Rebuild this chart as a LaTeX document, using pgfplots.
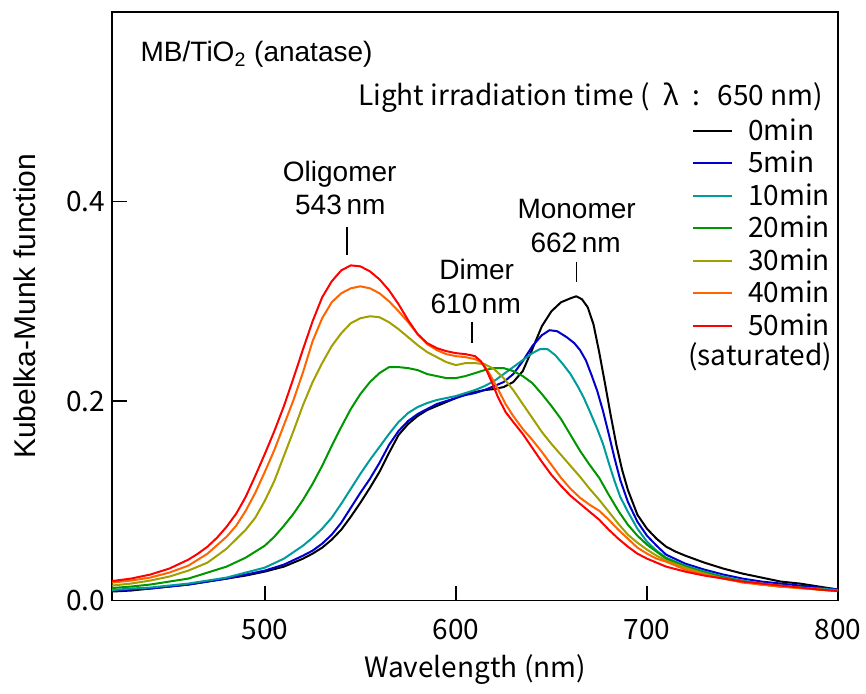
\documentclass[border=0pt]{standalone}
\usepackage{fontspec}
\setmainfont{Liberation Sans}
\newfontfamily\gothic{Noto Sans CJK JP}
\usepackage{pgfplots}
\pgfplotsset{compat=1.18}

\definecolor{cfive}{RGB}{0,0,205}
\definecolor{cten}{RGB}{0,155,155}
\definecolor{ctwenty}{RGB}{0,150,0}
\definecolor{cthirty}{RGB}{160,160,0}
\definecolor{cforty}{RGB}{255,100,0}
\definecolor{cfifty}{RGB}{255,0,0}

\newcommand\gfont{\gothic\fontsize{14}{16}\selectfont}
\newcommand\afont{\fontsize{14}{16}\selectfont}

\begin{document}
\begin{tikzpicture}
\begin{axis}[
  scale only axis, width=363pt, height=294.25pt,
  xmin=420, xmax=800, ymin=0, ymax=0.59,
  xtick={500,600,700,800}, ytick={0,0.2,0.4},
  tick align=inside, tick pos=left,
  major tick length=7.5pt,
  axis line style={line width=0.9pt},
  every tick/.style={black, line width=0.9pt},
  /pgf/number format/assume math mode=true,
  yticklabel style={/pgf/number format/.cd, fixed, fixed zerofill, precision=1},
  ticklabel style={font=\gfont},
  xticklabel style={yshift=-6pt},
  xlabel={Wavelength (nm)},
  xlabel style={font=\gfont, at={(axis description cs:0.5,0)}, anchor=base, yshift=-38.5pt},
  ylabel={Kubelka-Munk function},
  ylabel style={font=\fontsize{15}{17}\selectfont, at={(axis description cs:0,0.5)}, anchor=center, yshift=43.5pt},
  legend cell align=left,
  legend image code/.code={\draw[#1, line width=1pt] (0pt,0pt) -- (19.5pt,0pt);},
  legend style={draw=none, fill=none, inner sep=0pt, column sep=7.5pt,
    at={(axis cs:723.4,0.4877)}, anchor=north west, font=\gfont,
    nodes={inner sep=0pt, text height=13pt, text depth=3.25pt}},
  every axis plot/.append style={line width=1pt, line join=round},
]
% 0 min
\addplot[black] coordinates {
(420,0.009) (430,0.010) (440,0.012) (450,0.014) (460,0.016) (470,0.019) (480,0.022) (490,0.025)
(500,0.029) (510,0.034) (520,0.042) (525,0.047) (530,0.053) (535,0.061) (540,0.071) (545,0.084) (550,0.098)
(555,0.113) (560,0.129) (565,0.148) (570,0.166) (575,0.177) (580,0.185) (585,0.191) (590,0.195)
(595,0.199) (600,0.203) (605,0.207) (610,0.209) (615,0.211) (620,0.212) (625,0.214) (630,0.219)
(635,0.230) (640,0.252) (645,0.275) (650,0.290) (655,0.299) (660,0.303) (663,0.305) (666,0.302)
(669,0.294) (672,0.277) (675,0.249) (678,0.218) (681,0.186) (684,0.156) (687,0.131) (690,0.111)
(695,0.086) (700,0.072) (705,0.062) (710,0.054) (715,0.049) (720,0.045) (730,0.038) (740,0.032)
(750,0.027) (760,0.023) (770,0.019) (780,0.017) (790,0.014) (800,0.011)
};
\addlegendentry{0min}
% 5 min
\addplot[cfive] coordinates {
(420,0.0095) (430,0.011) (440,0.012) (450,0.014) (460,0.016) (470,0.019) (480,0.022) (490,0.026)
(500,0.030) (510,0.036) (520,0.045) (525,0.050) (530,0.057) (535,0.066) (540,0.078) (545,0.093) (550,0.108)
(555,0.122) (560,0.138) (565,0.156) (570,0.170) (575,0.180) (580,0.187) (585,0.192) (590,0.197)
(595,0.200) (600,0.203) (605,0.206) (610,0.208) (615,0.211) (620,0.215) (625,0.219) (630,0.227)
(635,0.240) (640,0.255) (645,0.266) (649,0.271) (653,0.270) (658,0.264) (662,0.258) (665,0.251)
(668,0.241) (671,0.226) (674,0.210) (677,0.190) (680,0.167) (683,0.143) (686,0.121) (690,0.099)
(695,0.079) (700,0.065) (705,0.055) (710,0.046) (720,0.037) (730,0.031) (740,0.026) (750,0.022)
(760,0.019) (770,0.017) (780,0.015) (790,0.013) (800,0.011)
};
\addlegendentry{5min}
% 10 min
\addplot[cten] coordinates {
(420,0.0105) (430,0.012) (440,0.013) (450,0.015) (460,0.017) (470,0.020) (480,0.023) (490,0.028)
(500,0.033) (510,0.042) (520,0.055) (525,0.063) (530,0.072) (535,0.083) (540,0.097) (545,0.112) (550,0.127)
(555,0.141) (560,0.154) (565,0.167) (570,0.179) (575,0.188) (580,0.194) (585,0.198) (590,0.201)
(595,0.203) (600,0.205) (605,0.208) (610,0.211) (615,0.215) (620,0.220) (625,0.227) (630,0.234)
(635,0.241) (640,0.248) (644,0.252) (648,0.252) (652,0.246) (656,0.237) (660,0.227) (664,0.214)
(667,0.203) (670,0.190) (674,0.172) (677,0.157) (680,0.138) (683,0.120) (686,0.104) (690,0.089)
(695,0.072) (700,0.059) (705,0.050) (710,0.043) (720,0.035) (730,0.029) (740,0.024) (750,0.020)
(760,0.017) (770,0.015) (780,0.013) (790,0.012) (800,0.0105)
};
\addlegendentry{10min}
% 20 min
\addplot[ctwenty] coordinates {
(420,0.0125) (430,0.014) (440,0.016) (450,0.019) (460,0.022) (470,0.028) (480,0.034) (490,0.043)
(500,0.055) (505,0.064) (510,0.075) (515,0.087) (520,0.101) (525,0.117) (530,0.135) (535,0.155)
(540,0.174) (545,0.192) (550,0.207) (555,0.219) (560,0.228) (565,0.234) (570,0.234) (575,0.233)
(580,0.231) (585,0.227) (590,0.225) (595,0.223) (600,0.223) (605,0.225) (610,0.228) (615,0.231)
(620,0.233) (625,0.233) (630,0.230) (635,0.225) (640,0.218) (645,0.207) (650,0.195) (655,0.182)
(660,0.166) (665,0.150) (670,0.136) (675,0.123) (680,0.106) (685,0.090) (690,0.076) (695,0.065)
(700,0.056) (705,0.049) (710,0.042) (720,0.034) (730,0.028) (740,0.023) (750,0.019) (760,0.016)
(770,0.014) (780,0.013) (790,0.011) (800,0.0098)
};
\addlegendentry{20min}
% 30 min
\addplot[cthirty] coordinates {
(420,0.015) (430,0.017) (440,0.020) (450,0.024) (460,0.030) (470,0.038) (480,0.052) (490,0.071)
(495,0.083) (500,0.100) (505,0.120) (510,0.145) (515,0.170) (520,0.196) (525,0.219) (530,0.238)
(535,0.255) (540,0.268) (545,0.278) (550,0.283) (555,0.285) (560,0.284) (565,0.279) (570,0.272)
(575,0.264) (580,0.256) (585,0.249) (590,0.244) (595,0.239) (600,0.236) (605,0.238) (610,0.238)
(615,0.237) (620,0.232) (625,0.223) (630,0.211) (635,0.197) (640,0.183) (645,0.169) (650,0.157)
(655,0.146) (660,0.135) (665,0.124) (670,0.112) (675,0.101) (680,0.089) (685,0.077) (690,0.066)
(695,0.058) (700,0.051) (705,0.045) (710,0.040) (720,0.033) (730,0.027) (740,0.022) (750,0.019)
(760,0.016) (770,0.014) (780,0.0125) (790,0.011) (800,0.0095)
};
\addlegendentry{30min}
% 40 min
\addplot[cforty] coordinates {
(420,0.018) (430,0.020) (440,0.023) (450,0.028) (460,0.035) (470,0.047) (480,0.064) (485,0.075)
(490,0.090) (495,0.108) (500,0.129) (505,0.151) (510,0.176) (515,0.201) (520,0.229) (525,0.260)
(530,0.283) (535,0.299) (540,0.308) (545,0.313) (550,0.315) (555,0.313) (560,0.308) (565,0.300)
(570,0.290) (575,0.279) (580,0.267) (585,0.257) (590,0.251) (595,0.247) (600,0.245) (605,0.244)
(610,0.242) (614,0.238) (618,0.226) (622,0.212) (626,0.197) (630,0.185) (635,0.172) (640,0.161)
(645,0.149) (650,0.136) (655,0.123) (660,0.112) (665,0.103) (670,0.096) (675,0.090) (680,0.081)
(685,0.071) (690,0.062) (695,0.053) (700,0.047) (705,0.042) (710,0.039) (720,0.031) (730,0.026)
(740,0.022) (750,0.018) (760,0.016) (770,0.014) (780,0.0125) (790,0.011) (800,0.0095)
};
\addlegendentry{40min}
% 50 min (saturated)
\addplot[cfifty] coordinates {
(420,0.0195) (430,0.022) (440,0.026) (450,0.032) (460,0.041) (465,0.047) (470,0.054) (475,0.063)
(480,0.074) (485,0.087) (490,0.104) (495,0.125) (500,0.147) (505,0.170) (510,0.195) (515,0.223)
(520,0.252) (525,0.280) (530,0.304) (535,0.320) (540,0.331) (545,0.336) (550,0.335) (555,0.330)
(560,0.322) (565,0.311) (570,0.297) (575,0.281) (580,0.267) (585,0.258) (590,0.253) (595,0.250)
(600,0.248) (605,0.247) (610,0.245) (613,0.240) (616,0.231) (619,0.218) (622,0.204) (626,0.189)
(630,0.179) (635,0.167) (640,0.153) (645,0.139) (650,0.126) (655,0.115) (660,0.105) (665,0.097)
(670,0.089) (675,0.081) (680,0.071) (685,0.062) (690,0.054) (695,0.047) (700,0.042) (705,0.038)
(710,0.034) (720,0.029) (730,0.025) (740,0.022) (750,0.019) (760,0.017) (770,0.015) (780,0.013)
(790,0.011) (800,0.0095)
};
\addlegendentry{50min}

\node[anchor=base west, inner sep=0pt, font=\gfont] at (axis cs:721.5,0.236) {(saturated)};
\node[anchor=base west, inner sep=0pt, font=\afont] at (axis cs:434.8,0.540) {MB/TiO\textsubscript{2} (anatase)};
\node[anchor=base east, inner sep=0pt, font=\gfont] at (axis cs:792.3,0.496)
  {Light irradiation time (\hspace{0.5em}λ\hspace{0.5em}:\hspace{0.6em}650 nm)};

\node[anchor=base, inner sep=0pt, font=\afont] at (axis cs:539.2,0.4198) {Oligomer};
\node[anchor=base, inner sep=0pt, font=\afont] at (axis cs:539.5,0.3865) {543\,nm};
\node[anchor=base, inner sep=0pt, font=\afont] at (axis cs:610.9,0.322) {Dimer};
\node[anchor=base, inner sep=0pt, font=\afont] at (axis cs:610.4,0.288) {610\,nm};
\node[anchor=base, inner sep=0pt, font=\afont] at (axis cs:663.2,0.383) {Monomer};
\node[anchor=base, inner sep=0pt, font=\afont] at (axis cs:662.7,0.3487) {662\,nm};
\draw[line width=0.8pt] (axis cs:543,0.3747) -- (axis cs:543,0.3464);
\draw[line width=0.8pt] (axis cs:608.3,0.2795) -- (axis cs:608.3,0.2578);
\draw[line width=0.8pt] (axis cs:663.2,0.3397) -- (axis cs:663.2,0.3196);
\end{axis}
\pgfresetboundingbox
\path (current axis.south west) ++(-56pt,-46.25pt) rectangle ++(433pt,346.5pt);
\end{tikzpicture}
\end{document}
